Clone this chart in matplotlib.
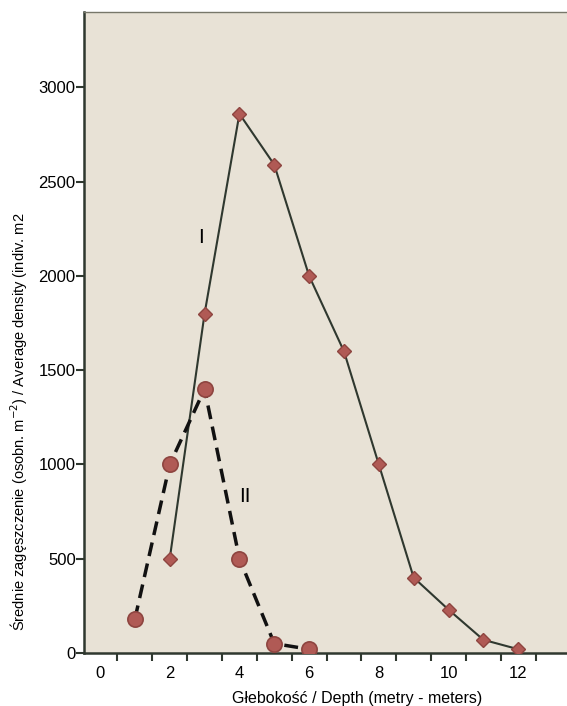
import matplotlib
matplotlib.use("Agg")
import matplotlib.pyplot as plt

# series I (diamonds, solid) and II (circles, dashed)
depth_1 = [2, 3, 4, 5, 6, 7, 8, 9, 10, 11, 12]
density_1 = [500, 1800, 2860, 2590, 2000, 1600, 1000, 400, 230, 70, 20]
depth_2 = [1, 2, 3, 4, 5, 6]
density_2 = [180, 1000, 1400, 500, 50, 20]

x_labels = [0, 2, 4, 6, 8, 10, 12]
y_ticks = [0, 500, 1000, 1500, 2000, 2500, 3000]

plt.rcParams['font.family'] = ['Liberation Sans', 'DejaVu Sans']

bg = '#e8e2d6'
marker_face = '#b05a55'
marker_edge = '#8e4540'
line_col = '#2f382f'

fig = plt.figure(figsize=(5.67, 7.06), dpi=100)
ax = fig.add_axes([84 / 567, 53 / 706, 1 - 84 / 567, 641 / 706])
ax.set_facecolor(bg)

ax.plot(depth_1, density_1, color=line_col, lw=1.5, marker='D', ms=7.5,
        mfc=marker_face, mec=marker_edge, mew=1, zorder=3)
ax.plot(depth_2, density_2, color='#111111', lw=2.5, ls=(0, (4, 2.2)), marker='o', ms=11,
        mfc=marker_face, mec=marker_edge, mew=1.2, zorder=4)

ax.text(2.9, 2205, 'I', fontsize=15, ha='center', va='center')
ax.text(4.15, 830, 'II', fontsize=15, ha='center', va='center')

ax.set_xlim(-0.46, 13.4)
ax.set_ylim(0, 3400)

# labels at integers, tick marks at half steps
ax.set_xticks(x_labels)
ax.set_xticklabels([str(v) for v in x_labels], fontsize=12)
ax.tick_params(axis='x', which='major', length=0, pad=9)
ax.set_xticks([i + 0.5 for i in range(13)], minor=True)
ax.tick_params(axis='x', which='minor', length=6, width=1.5, color=line_col, direction='out')

ax.set_yticks(y_ticks)
ax.set_yticklabels([str(v) for v in y_ticks], fontsize=12)
ax.tick_params(axis='y', length=6, width=1.5, color=line_col, pad=0)

for s in ['left', 'bottom']:
    ax.spines[s].set_color(line_col)
    ax.spines[s].set_linewidth(1.8)
ax.spines['top'].set_color('#77776a')
ax.spines['top'].set_linewidth(1)
ax.spines['right'].set_visible(False)

ax.set_xlabel('Głebokość / Depth (metry - meters)', fontsize=11.5)
ax.xaxis.set_label_coords(0.565, -0.06)
ax.set_ylabel('Średnie zagęszczenie (osobn. m$^{-2}$) / Average density (indiv. m2',
              fontsize=10.5)
ax.yaxis.set_label_coords(-0.112, 0.36)

fig.savefig('out.png', dpi=100, facecolor='white')
